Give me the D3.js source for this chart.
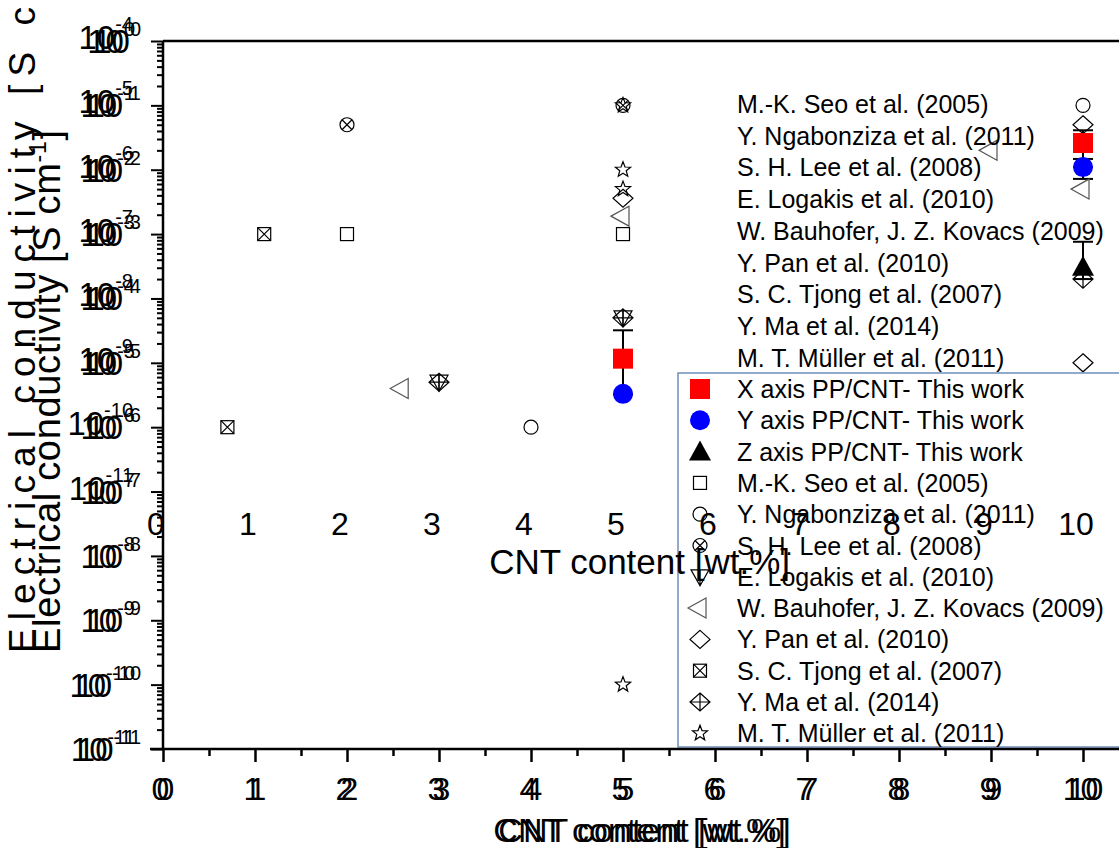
<!DOCTYPE html>
<html><head><meta charset="utf-8">
<script src="https://cdn.jsdelivr.net/npm/d3@7"></script>
<style>
body{margin:0;background:#fff}
svg{display:block}
text{font-family:"Liberation Sans",Arial,sans-serif;fill:#000}
</style>
</head><body>
<svg id="chart" width="1119" height="848"></svg>
<script>
// ---------------- data ----------------
const xTickValues = [0,1,2,3,4,5,6,7,8,9,10];
const yTickExps = [0,-1,-2,-3,-4,-5,-6,-7,-8,-9,-10,-11];
const yTickExps2 = [-4,-5,-6,-7,-8,-9,-10,-11];
const xTitle = "CNT content [wt.%]";
const yTitle = "Electrical conductivity [S cm";

// this work (X, Y, Z axis directions)
const xAxisWorkX = [5, 10];
const xAxisWorkY = [1.16e-5, 2.6e-2];
const xAxisWorkHi = [3.2e-5, 4.1e-2];
const xAxisWorkLo = [3.2e-6, 1.1e-2];
const yAxisWorkX = [5, 10];
const yAxisWorkY = [3.3e-6, 1.1e-2];
const yAxisWorkHi = [3.3e-6, 1.47e-2];
const yAxisWorkLo = [3.3e-6, 7.2e-3];
const zAxisWorkX = [10];
const zAxisWorkY = [3.1e-4];
const zAxisWorkHi = [7.6e-4];
const zAxisWorkLo = [2.0e-4];

// literature
const seoX = [2, 5];            const seoY = [1e-3, 1e-3];
const ngabX = [4, 10];          const ngabY = [1e-6, 0.1];
const leeX = [2, 5];            const leeY = [5e-2, 0.1];
const logakisX = [3, 5];        const logakisY = [5e-6, 5e-5];
const bauhoferX = [2.6, 5, 9, 10]; const bauhoferY = [4e-6, 1.9e-3, 2e-2, 5e-3];
const panX = [5, 10, 10];       const panY = [3.6e-3, 1e-5, 5e-2];
const tjongX = [0.7, 1.1];      const tjongY = [1e-6, 1e-3];
const maX = [3, 5, 10];         const maY = [5e-6, 5e-5, 2e-4];
const mullerX = [5, 5, 5, 5];   const mullerY = [0.1, 1e-2, 5e-3, 1e-10];

const legendNames = [
  "X axis PP/CNT- This work","Y axis PP/CNT- This work","Z axis PP/CNT- This work",
  "M.-K. Seo et al. (2005)","Y. Ngabonziza et al. (2011)","S. H. Lee et al. (2008)",
  "E. Logakis et al. (2010)","W. Bauhofer, J. Z. Kovacs (2009)","Y. Pan et al. (2010)",
  "S. C. Tjong et al. (2007)","Y. Ma et al. (2014)","M. T. Müller et al. (2011)"
];
const legendTypes = ["redsquare","bluecircle","blacktriangle","square","circle","circlex",
  "triangledown","triangleleft","diamond","squarex","diamondplus","star"];
const legend2Names = [
  "M.-K. Seo et al. (2005)","Y. Ngabonziza et al. (2011)","S. H. Lee et al. (2008)",
  "E. Logakis et al. (2010)","W. Bauhofer, J. Z. Kovacs (2009)","Y. Pan et al. (2010)",
  "S. C. Tjong et al. (2007)","Y. Ma et al. (2014)","M. T. Müller et al. (2011)"
];

// ---------------- drawing ----------------
const svg = d3.select("#chart");
const x = d3.scaleLinear().domain([0,10]).range([163,1083]);
const y = d3.scaleLog().domain([1e-11,1]).range([749,41]);
const x2 = d3.scaleLinear().domain([0,10]).range([156,1076]);

// y titles (two overlapping copies)
svg.append("text").attr("transform","translate(35,653) rotate(-90)")
  .attr("font-size",37).attr("textLength",740).attr("lengthAdjust","spacing")
  .text(yTitle).append("tspan").attr("font-size",23).attr("dy",-14).text("-1")
  .append("tspan").attr("font-size",37).attr("dy",14).text("]");
svg.append("text").attr("transform","translate(60,653) rotate(-90)")
  .attr("font-size",38).attr("textLength",523).attr("lengthAdjust","spacing")
  .text(yTitle).append("tspan").attr("font-size",23).attr("dy",-14).text("-1")
  .append("tspan").attr("font-size",38).attr("dy",14).text("]");

// axes ticks
const gx = svg.append("g").attr("transform","translate(0,749)");
gx.call(d3.axisBottom(x).tickValues(xTickValues).tickSize(13).tickFormat(""));
gx.append("g").call(d3.axisBottom(x).tickValues(d3.range(0.5,10,1)).tickSize(7).tickFormat(""));
gx.selectAll(".domain").remove();
gx.selectAll("line").attr("stroke","#000").attr("stroke-width",2.5);

const gy = svg.append("g").attr("transform","translate(163,0)");
gy.call(d3.axisLeft(y).tickValues(yTickExps.map(e=>Math.pow(10,e))).tickSize(12).tickFormat(""));
const minorY = [];
yTickExps.slice(1).forEach(e=>{ for(let k=2;k<=9;k++) minorY.push(k*Math.pow(10,e)); });
gy.append("g").call(d3.axisLeft(y).tickValues(minorY).tickSize(6).tickFormat(""));
gy.selectAll(".domain").remove();
gy.selectAll("line").attr("stroke","#000").attr("stroke-width",2);

// y tick labels (doubled) + second set
[-6,0].forEach(off=>{
  yTickExps.forEach(e=>{
    const t = svg.append("text").attr("text-anchor","end")
      .attr("x",141+off).attr("y",y(Math.pow(10,e))+12).attr("font-size",33);
    t.append("tspan").text("10");
    t.append("tspan").attr("font-size",20).attr("dy",-17).text(e===0?"0":String(e));
  });
});
yTickExps2.forEach((e,i)=>{
  const t = svg.append("text").attr("text-anchor","end")
    .attr("x",133).attr("y",y(Math.pow(10,-i))+8).attr("font-size",33);
  t.append("tspan").text("10");
  t.append("tspan").attr("font-size",20).attr("dy",-18).text(String(e));
});

// x tick labels (doubled)
[-2.5,2.5].forEach(off=>{
  svg.append("g").selectAll("text").data(xTickValues).join("text")
    .attr("x",d=>x(d)+off).attr("y",800).attr("font-size",32).attr("text-anchor","middle").text(d=>d);
  svg.append("text").attr("x",642+off).attr("y",842).attr("font-size",34)
    .attr("text-anchor","middle").text(xTitle);
});

// markers
function marker(g, type, cx, cy){
  const s = g.append("g").attr("transform",`translate(${cx},${cy})`)
    .attr("fill","none").attr("stroke","#000").attr("stroke-width",1.2);
  switch(type){
    case "redsquare": s.append("rect").attr("x",-10).attr("y",-10).attr("width",20).attr("height",20).attr("fill","#ff0000").attr("stroke","none"); break;
    case "bluecircle": s.append("circle").attr("r",10).attr("fill","#0000ff").attr("stroke","none"); break;
    case "blacktriangle": s.append("path").attr("d","M0,-11L11,9L-11,9Z").attr("fill","#000").attr("stroke","none"); break;
    case "square": s.append("rect").attr("x",-6.5).attr("y",-6.5).attr("width",13).attr("height",13); break;
    case "circle": s.append("circle").attr("r",7); break;
    case "circlex": s.append("circle").attr("r",7);
      s.append("path").attr("d","M-5,-5L5,5M-5,5L5,-5"); break;
    case "triangledown": s.append("path").attr("d","M-9,-7L9,-7L0,9Z M0,-7L0,9"); break;
    case "triangleleft": s.attr("stroke","#555").append("path").attr("d","M-12,0L6,-10L6,10Z"); break;
    case "diamond": s.append("path").attr("d","M0,-9L10,0L0,9L-10,0Z"); break;
    case "squarex": s.append("rect").attr("x",-6.5).attr("y",-6.5).attr("width",13).attr("height",13);
      s.append("path").attr("d","M-6.5,-6.5L6.5,6.5M-6.5,6.5L6.5,-6.5"); break;
    case "diamondplus": s.append("path").attr("d","M0,-9L10,0L0,9L-10,0Z M0,-9L0,9 M-10,0L10,0"); break;
    case "star": {
      const pts=[]; for(let i=0;i<10;i++){const r=i%2?3.4:8; const a=-Math.PI/2+i*Math.PI/5; pts.push([r*Math.cos(a),r*Math.sin(a)]);}
      s.append("path").attr("d","M"+pts.map(p=>p.join(",")).join("L")+"Z"); break;
    }
  }
}

const gp = svg.append("g");
// error bars
function errbars(xs, ys, hi, lo){
  xs.forEach((xv,i)=>{
    if(hi[i]===ys[i] && lo[i]===ys[i]) return;
    const g = gp.append("g").attr("stroke","#000").attr("stroke-width",2);
    g.append("line").attr("x1",x(xv)).attr("x2",x(xv)).attr("y1",y(hi[i])).attr("y2",y(lo[i]));
    g.append("line").attr("x1",x(xv)-10).attr("x2",x(xv)+10).attr("y1",y(hi[i])).attr("y2",y(hi[i]));
    g.append("line").attr("x1",x(xv)-10).attr("x2",x(xv)+10).attr("y1",y(lo[i])).attr("y2",y(lo[i]));
  });
}
errbars(xAxisWorkX,xAxisWorkY,xAxisWorkHi,xAxisWorkLo);
errbars(yAxisWorkX,yAxisWorkY,yAxisWorkHi,yAxisWorkLo);
errbars(zAxisWorkX,zAxisWorkY,zAxisWorkHi,zAxisWorkLo);

const series = [
  ["square",seoX,seoY],["circle",ngabX,ngabY],["circlex",leeX,leeY],["triangledown",logakisX,logakisY],
  ["triangleleft",bauhoferX,bauhoferY],["diamond",panX,panY],["squarex",tjongX,tjongY],
  ["diamondplus",maX,maY],["star",mullerX,mullerY],
  ["redsquare",xAxisWorkX,xAxisWorkY],["bluecircle",yAxisWorkX,yAxisWorkY],["blacktriangle",zAxisWorkX,zAxisWorkY]
];
series.forEach(([t,xs,ys])=>xs.forEach((xv,i)=>marker(gp,t,x(xv),y(ys[i]))));

// upper legend (text only)
svg.append("g").selectAll("text").data(legend2Names).join("text")
  .attr("x",737).attr("y",(d,i)=>113+i*31.7).attr("font-size",25).text(d=>d);

// lower legend
const lg = svg.append("g");
lg.append("rect").attr("x",678).attr("y",373).attr("width",460).attr("height",374)
  .attr("fill","#fff").attr("stroke","#6f8fb8").attr("stroke-width",1.5);
legendNames.forEach((n,i)=>{
  const cy = 389 + i*31.3;
  marker(lg, legendTypes[i], 700, cy);
  lg.append("text").attr("x",737).attr("y",cy+9).attr("font-size",25).text(n);
});

// second x-axis labels and title (overlay)
svg.append("g").selectAll("text").data(xTickValues).join("text")
  .attr("x",d=>x2(d)).attr("y",535).attr("font-size",32).attr("text-anchor","middle").text(d=>d);
svg.append("text").attr("x",790).attr("y",574).attr("font-size",35).attr("text-anchor","end").text(xTitle);

// frame (on top)
const frame = svg.append("g").attr("stroke","#000").attr("stroke-width",2.5);
frame.append("line").attr("x1",163).attr("x2",163).attr("y1",y(1)).attr("y2",y(1e-11));
frame.append("line").attr("x1",163).attr("x2",1119).attr("y1",y(1)).attr("y2",y(1));
frame.append("line").attr("x1",150).attr("x2",1119).attr("y1",y(1e-11)).attr("y2",y(1e-11));
</script>
</body></html>
